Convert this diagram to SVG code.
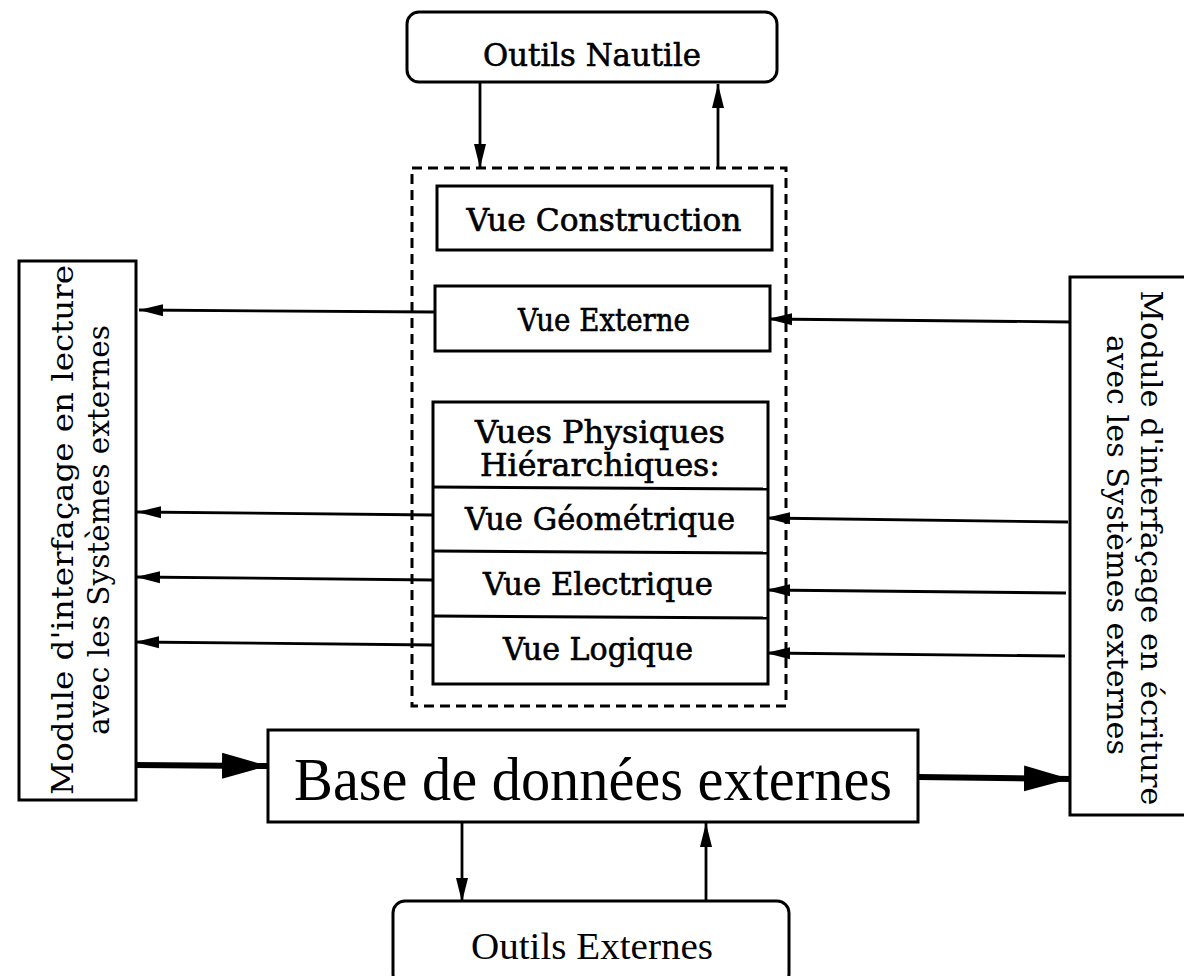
<svg xmlns="http://www.w3.org/2000/svg" width="1184" height="976" viewBox="0 0 1184 976">
<style>
.box{fill:#fff;stroke:#000;stroke-width:3}
.dash{fill:none;stroke:#000;stroke-width:3;stroke-dasharray:10 6}
.ln{fill:none;stroke:#000;stroke-width:2.8}
.thick{fill:none;stroke:#000;stroke-width:6}
.t{font-family:"DejaVu Serif","Liberation Serif",serif;font-size:30px;text-anchor:middle;fill:#000}
.tb{font-family:"DejaVu Serif","Liberation Serif",serif;font-size:31px;text-anchor:middle;fill:#000;stroke:#000;stroke-width:0.6}
.tr{font-family:"Liberation Serif",serif;text-anchor:middle;fill:#000}
</style>
<defs>
<marker id="ah" markerUnits="userSpaceOnUse" markerWidth="26" markerHeight="14" refX="24" refY="7" orient="auto">
<path d="M0,1 L24,7 L0,13 z" fill="#000"/>
</marker>
<marker id="big" markerUnits="userSpaceOnUse" markerWidth="48" markerHeight="28" refX="46" refY="14" orient="auto">
<path d="M0,1 L46,14 L0,27 z" fill="#000"/>
</marker>
</defs>

<g id="connectors">
<line class="ln" x1="480" y1="82" x2="480" y2="168" marker-end="url(#ah)"/>
<line class="ln" x1="718" y1="168" x2="718" y2="84" marker-end="url(#ah)"/>
<line class="ln" x1="435" y1="312" x2="139" y2="310" marker-end="url(#ah)"/>
<line class="ln" x1="433" y1="515" x2="137" y2="512" marker-end="url(#ah)"/>
<line class="ln" x1="433" y1="580" x2="136" y2="577" marker-end="url(#ah)"/>
<line class="ln" x1="433" y1="645" x2="135" y2="642" marker-end="url(#ah)"/>
<line class="ln" x1="1071" y1="322" x2="768" y2="319" marker-end="url(#ah)"/>
<line class="ln" x1="1068" y1="522" x2="766" y2="518" marker-end="url(#ah)"/>
<line class="ln" x1="1066" y1="593" x2="766" y2="590" marker-end="url(#ah)"/>
<line class="ln" x1="1065" y1="656" x2="766" y2="653" marker-end="url(#ah)"/>
<line class="thick" x1="135" y1="765" x2="268" y2="766" marker-end="url(#big)"/>
<line class="thick" x1="918" y1="777" x2="1070" y2="779" marker-end="url(#big)"/>
<line class="ln" x1="462" y1="822" x2="462" y2="902" marker-end="url(#ah)"/>
<line class="ln" x1="706" y1="902" x2="706" y2="823" marker-end="url(#ah)"/>
</g>

<g id="outils-nautile">
<rect class="box" x="407" y="12" width="370" height="70" rx="12"/>
<text class="tb" x="592" y="66" textLength="218" lengthAdjust="spacingAndGlyphs">Outils Nautile</text>
</g>

<g id="vues-group">
<rect class="dash" x="412" y="168" width="374" height="538"/>
</g>

<g id="vue-construction">
<rect class="box" x="437" y="186" width="335" height="64"/>
<text class="tb" x="604" y="231" textLength="275" lengthAdjust="spacingAndGlyphs">Vue Construction</text>
</g>

<g id="vue-externe">
<rect class="box" x="435" y="286" width="335" height="65"/>
<text class="tb" x="604" y="331" textLength="172" lengthAdjust="spacingAndGlyphs">Vue Externe</text>
</g>

<g id="vues-physiques">
<rect class="box" x="433" y="402" width="335" height="282"/>
<text class="tb" x="600" y="443" textLength="250" lengthAdjust="spacingAndGlyphs">Vues Physiques</text>
<text class="tb" x="600" y="476" textLength="240" lengthAdjust="spacingAndGlyphs">Hiérarchiques:</text>
<line class="box" x1="433" y1="487" x2="768" y2="489"/>
</g>

<g id="vue-geometrique">
<text class="tb" x="600" y="530" textLength="270" lengthAdjust="spacingAndGlyphs">Vue Géométrique</text>
<line class="box" x1="433" y1="551" x2="768" y2="553"/>
</g>

<g id="vue-electrique">
<text class="tb" x="598" y="595" textLength="230" lengthAdjust="spacingAndGlyphs">Vue Electrique</text>
<line class="box" x1="433" y1="616" x2="768" y2="618"/>
</g>

<g id="vue-logique">
<text class="tb" x="598" y="660" textLength="190" lengthAdjust="spacingAndGlyphs">Vue Logique</text>
</g>

<g id="module-lecture">
<rect class="box" x="19" y="261" width="117" height="539"/>
<text class="t" transform="translate(63,530) rotate(-90)" y="10" textLength="530" lengthAdjust="spacingAndGlyphs">Module d'interfaçage en lecture</text>
<text class="t" transform="translate(99,530) rotate(-90)" y="10" textLength="410" lengthAdjust="spacingAndGlyphs">avec les Systèmes externes</text>
</g>

<g id="module-ecriture">
<rect class="box" x="1070" y="277" width="117" height="538"/>
<text class="t" transform="translate(1151,548) rotate(90)" y="10" textLength="515" lengthAdjust="spacingAndGlyphs">Module d'interfaçage en écriture</text>
<text class="t" transform="translate(1117,545) rotate(90)" y="10" textLength="420" lengthAdjust="spacingAndGlyphs">avec les Systèmes externes</text>
</g>

<g id="base-donnees">
<rect class="box" x="268" y="730" width="650" height="92"/>
<text class="tr" x="593" y="800" font-size="62" textLength="598" lengthAdjust="spacingAndGlyphs">Base de données externes</text>
</g>

<g id="outils-externes">
<rect class="box" x="393" y="901" width="396" height="85" rx="12"/>
<text class="tr" x="592" y="959" font-size="38" textLength="242" lengthAdjust="spacingAndGlyphs">Outils Externes</text>
</g>
</svg>
